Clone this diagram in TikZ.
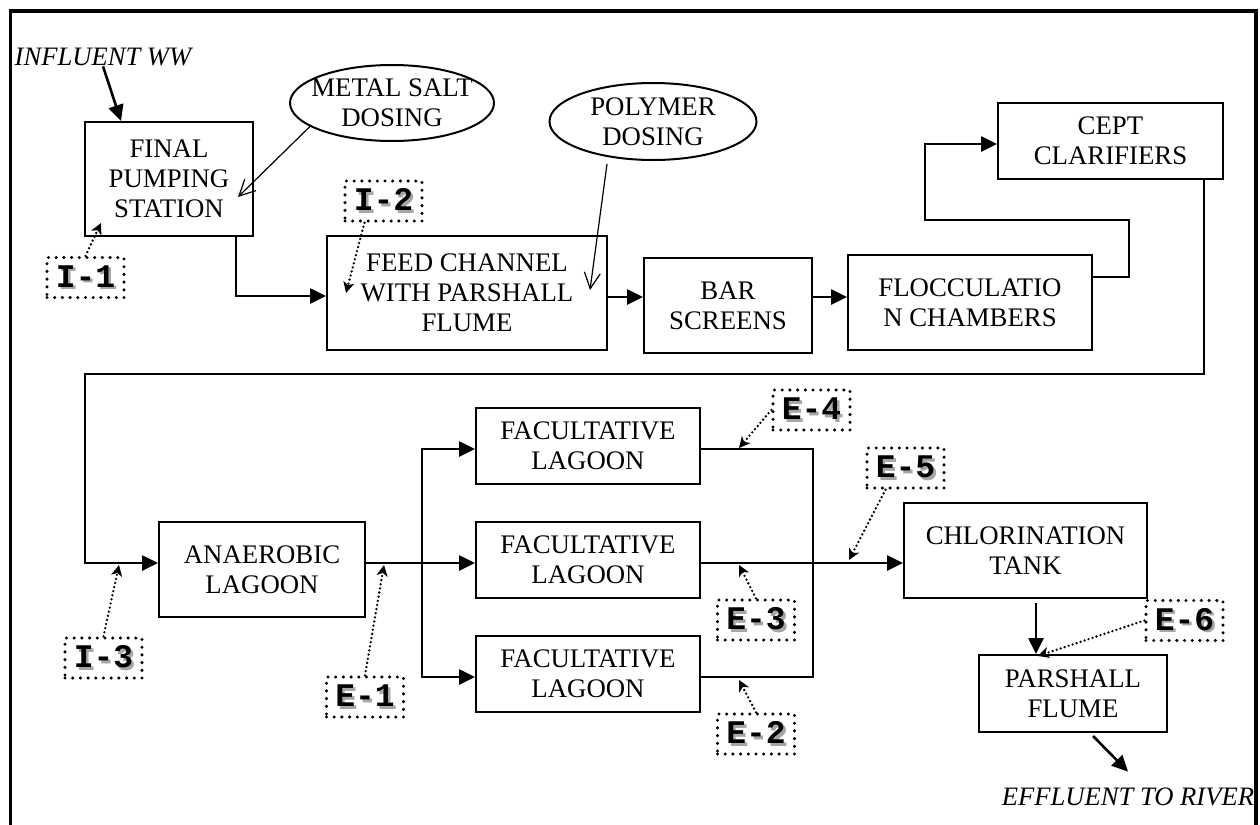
\documentclass[tikz,border=0pt]{standalone}
\usepackage{fontspec}
\setmainfont{Liberation Serif}
\newfontfamily\labfont{Liberation Mono}
\usetikzlibrary{arrows.meta,calc,shapes.geometric}
\newcommand\shd[1]{\rlap{\kern1.3pt\raisebox{-1.3pt}{\textcolor{black!35}{#1}}}#1}
\begin{document}
\begin{tikzpicture}[x=0.5pt,y=-0.5pt,
  txt/.style={font=\fontsize{13.4pt}{15pt}\selectfont},
  box/.style={txt,draw,line width=1pt,align=center,inner sep=0pt},
  oval/.style={txt,ellipse,draw,line width=1pt,align=center,inner xsep=-7pt,inner ysep=0pt},
  tag/.style={draw,line width=1.7pt,dash pattern=on 0pt off 3.85pt,line cap=round,inner sep=0pt,
    font=\labfont\bfseries\fontsize{16.5pt}{19pt}\selectfont,minimum width=38.5pt,minimum height=20pt},
  free/.style={font=\itshape\fontsize{13.3pt}{15pt}\selectfont,inner sep=0pt},
  flow/.style={line width=1.3pt,-{Triangle[length=8pt,width=7.5pt]}},
  wire/.style={line width=1.3pt},
  thinarr/.style={line width=0.6pt,-{Straight Barb[length=8pt,width=8pt,line width=0.6pt]}},
  dotarr/.style={line width=1.3pt,dash pattern=on 0pt off 2.1pt,line cap=round,-{Stealth[length=5.5pt,width=5.5pt,inset=1.5pt]}}
]
\useasboundingbox (0,0) rectangle (1260,825);
\draw[line width=1.6pt] (10.5,11) rectangle (1256,860);

% process boxes
\node[box,minimum width=84pt,minimum height=57pt] (fps) at (169,179) {FINAL\\PUMPING\\STATION};
\node[box,minimum width=140pt,minimum height=57pt] (feed) at (467,293) {FEED CHANNEL\\WITH PARSHALL\\FLUME};
\node[box,minimum width=84pt,minimum height=47.5pt] (bar) at (728,305.5) {BAR\\SCREENS};
\node[box,minimum width=122pt,minimum height=47.5pt] (flocc) at (970,302.5) {FLOCCULATIO\\N CHAMBERS};
\node[box,minimum width=112.5pt,minimum height=38pt] (cept) at (1110.5,141) {CEPT\\CLARIFIERS};
\node[box,minimum width=103pt,minimum height=47.5pt] (ana) at (262,569.5) {ANAEROBIC\\LAGOON};
\node[box,minimum width=112pt,minimum height=38pt] (fac1) at (588,446) {FACULTATIVE\\LAGOON};
\node[box,minimum width=112pt,minimum height=38pt] (fac2) at (588,560) {FACULTATIVE\\LAGOON};
\node[box,minimum width=112pt,minimum height=38pt] (fac3) at (588,674) {FACULTATIVE\\LAGOON};
\node[box,minimum width=121.5pt,minimum height=47.5pt] (chl) at (1025.5,550.5) {CHLORINATION\\TANK};
\node[box,minimum width=94pt,minimum height=38.5pt] (pf) at (1073,693.5) {PARSHALL\\FLUME};

% dosing ellipses
\node[oval,minimum width=102pt,minimum height=38pt] (msd) at (392,103) {METAL SALT\\DOSING};
\node[oval,minimum width=103.5pt,minimum height=38.5pt] (pd) at (653,121.5) {POLYMER\\DOSING};

% sampling tags
\node[tag] (i1) at (85.5,277.5) {\shd{I-1}};
\node[tag] (i2) at (383.5,201) {\shd{I-2}};
\node[tag] (i3) at (103.5,658) {\shd{I-3}};
\node[tag] (e1) at (365,697) {\shd{E-1}};
\node[tag] (e2) at (756,734) {\shd{E-2}};
\node[tag] (e3) at (756,620) {\shd{E-3}};
\node[tag] (e4) at (811.5,410) {\shd{E-4}};
\node[tag] (e5) at (905.5,468) {\shd{E-5}};
\node[tag] (e6) at (1184.5,620.5) {\shd{E-6}};

% free texts
\node[free] (infl) at (103,57) {INFLUENT WW};
\node[free] (eff) at (1128,797) {EFFLUENT TO RIVER};

% connectors
\draw[flow] (infl.south) -- ($(fps.north west)+(37,0)$);
\draw[thinarr] (msd.196) -- ($(fps.east)+(-16,18)$);
\draw[dotarr] (i1.north) -- ($(fps.south west)+(17,-14)$);
\draw[flow] ($(fps.south east)+(-18,0)$) |- ($(feed.west)+(0,3)$);
\draw[dotarr] ($(i2.south)+(-19,0)$) -- ($(feed.west)+(20,0)$);
\draw[thinarr] ($(pd.south)+(-46,3)$) -- ($(feed.east)+(-18,-3)$);
\coordinate (r1) at ($(feed.east)+(0,4)$);
\draw[flow] (r1) -- (r1 -| bar.west);
\draw[flow] (r1 -| bar.east) -- (r1 -| flocc.west);
\draw[flow] ($(flocc.east)+(0,-25.5)$) -- ++(36,0) -- ++(0,-57) -- ++(-204,0) |- ($(cept.west)+(0,3)$);
\coordinate (m0) at ($(ana.west)+(0,-6.5)$);
\draw[flow] ($(cept.south east)+(-20,0)$) |- ++(-1119,194) |- (m0);
\draw[dotarr] (i3.north) -- ($(m0)+(-39,2)$);
\coordinate (m1) at (m0 -| ana.east);
\draw[flow] (m1) -- (m1 -| fac2.west);
\coordinate (sp) at ($(m1)+(56,0)$);
\draw[flow] (sp) |- ($(fac1.west)+(0,3)$);
\draw[flow] (sp) |- ($(fac3.west)+(0,3)$);
\draw[dotarr] (e1.north) -- ($(m1)+(18,2)$);
\coordinate (mg) at ($(fac2.east)+(112,3)$);
\draw[wire] ($(fac1.east)+(0,3)$) -| (mg);
\draw[wire] ($(fac3.east)+(0,3)$) -| (mg);
\draw[flow] ($(fac2.east)+(0,3)$) -- (mg -| chl.west);
\draw[dotarr] (e4.west) -- ($(fac1.east)+(38,2)$);
\draw[dotarr] (e3.north) -- ($(fac2.east)+(38,5)$);
\draw[dotarr] (e2.north) -- ($(fac3.east)+(38,6)$);
\draw[dotarr] ($(e5.south)+(-20,0)$) -- ($(chl.west)+(-54,9.5)$);
\coordinate (c1) at ($(chl.south)+(10.5,4)$);
\draw[flow] (c1) -- (c1 |- pf.north);
\draw[dotarr] (e6.west) -- ($(pf.north)+(-35,2)$);
\draw[flow] ($(pf.south)+(20,3)$) -- ($(eff.north)+(0,-16)$);
\end{tikzpicture}
\end{document}
